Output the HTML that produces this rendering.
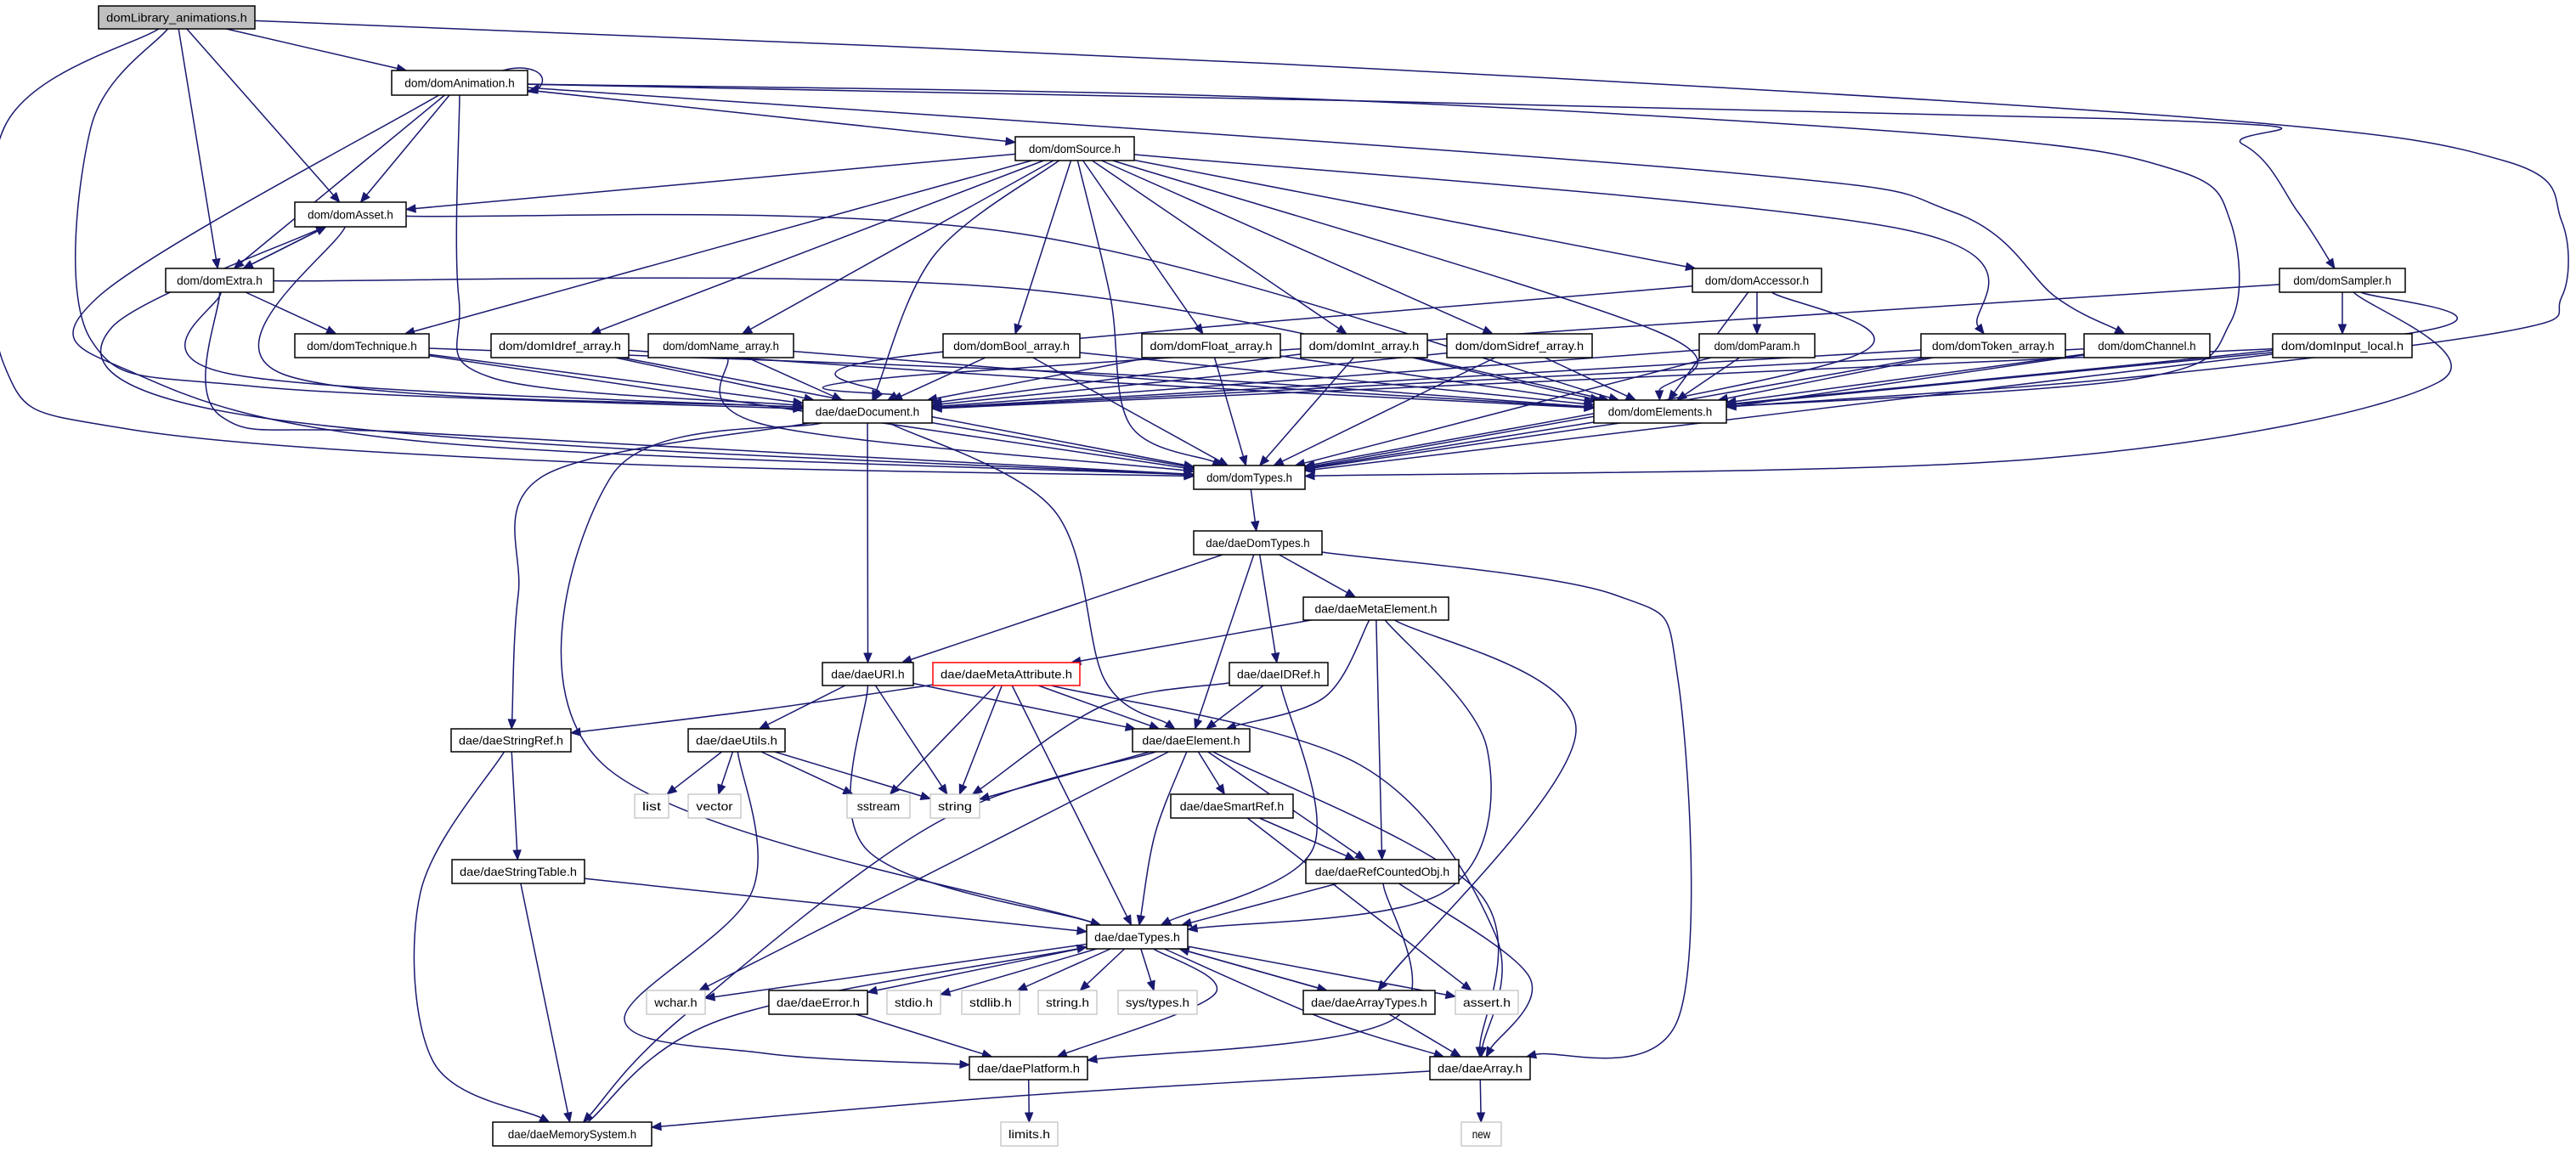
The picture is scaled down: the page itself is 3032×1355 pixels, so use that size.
<!DOCTYPE html>
<html><head><meta charset="utf-8"><style>
html,body{margin:0;padding:0;background:#fff;width:3032px;height:1355px;overflow:hidden}
svg{display:block}
</style></head><body>
<svg id="g" xmlns="http://www.w3.org/2000/svg" width="3032" height="1355" viewBox="0 0 3032 1355">
<rect width="3032" height="1355" fill="#fff"/>
<g id="edges" fill="none" stroke="#191970" stroke-width="1.5"></g>
<g id="arrows" fill="#191970" stroke="#191970" stroke-width="1"></g>
<g id="nodes" font-family="Liberation Sans, DejaVu Sans, sans-serif" font-size="14"></g>
</svg>
<script>
var N={
L:[116,7,300,34,"domLibrary_animations.h","g"],
A:[461,83,621,112,"dom/domAnimation.h"],
As:[347,238,478,267,"dom/domAsset.h"],
E:[195,316,322,344,"dom/domExtra.h"],
T:[347,393,505,421,"dom/domTechnique.h"],
Id:[578,393,740,421,"dom/domIdref_array.h"],
Nm:[763,393,934,421,"dom/domName_array.h"],
D:[945,471,1097,498,"dae/daeDocument.h"],
S:[1195,161,1335,189,"dom/domSource.h"],
B:[1110,393,1271,421,"dom/domBool_array.h"],
F:[1344,393,1507,421,"dom/domFloat_array.h"],
I:[1531,393,1680,421,"dom/domInt_array.h"],
Si:[1703,393,1874,421,"dom/domSidref_array.h"],
El:[1876,471,2032,498,"dom/domElements.h"],
Ty:[1405,548,1536,576,"dom/domTypes.h"],
Ac:[1992,316,2144,344,"dom/domAccessor.h"],
P:[2000,393,2136,421,"dom/domParam.h"],
Tk:[2261,393,2431,421,"dom/domToken_array.h"],
Ch:[2453,393,2601,421,"dom/domChannel.h"],
In:[2675,393,2839,421,"dom/domInput_local.h"],
Sa:[2683,316,2831,344,"dom/domSampler.h"],
DT:[1405,625,1556,653,"dae/daeDomTypes.h"],
ME:[1534,703,1705,730,"dae/daeMetaElement.h"],
U:[968,780,1075,807,"dae/daeURI.h"],
MA:[1098,780,1271,807,"dae/daeMetaAttribute.h","r"],
IR:[1447,780,1563,807,"dae/daeIDRef.h"],
Ee:[1333,858,1471,885,"dae/daeElement.h"],
SR:[531,858,672,885,"dae/daeStringRef.h"],
Ut:[810,858,924,885,"dae/daeUtils.h"],
li:[747,935,787,963,"list","l"],
ve:[810,935,872,963,"vector","l"],
ss:[997,935,1071,963,"sstream","l"],
st:[1095,935,1153,963,"string","l"],
Sm:[1378,935,1522,963,"dae/daeSmartRef.h"],
RC:[1537,1012,1717,1040,"dae/daeRefCountedObj.h"],
ST:[532,1012,688,1040,"dae/daeStringTable.h"],
dT:[1279,1089,1398,1117,"dae/daeTypes.h"],
wc:[761,1166,830,1194,"wchar.h","l"],
Er:[905,1166,1021,1194,"dae/daeError.h"],
sd:[1044,1166,1107,1194,"stdio.h","l"],
sl:[1132,1166,1200,1194,"stdlib.h","l"],
sh:[1222,1166,1291,1194,"string.h","l"],
sy:[1316,1166,1409,1194,"sys/types.h","l"],
AT:[1534,1166,1689,1194,"dae/daeArrayTypes.h"],
as:[1713,1166,1787,1194,"assert.h","l"],
Pl:[1141,1244,1280,1271,"dae/daePlatform.h"],
Ar:[1683,1244,1801,1271,"dae/daeArray.h"],
lm:[1178,1321,1245,1349,"limits.h","l"],
nw:[1720,1321,1767,1349,"new","l"],
MS:[580,1321,767,1349,"dae/daeMemorySystem.h"]
};
var E=[
["L","A"],["L","As"],["L","E"],["L","D",[[107,150],[107,400],[300,455]]],["L","Ty",[[5,150],[5,430],[150,505],[700,545]]],
["L","El",[[1500,75],[2600,140],[2950,190],[3015,260],[3015,350],[2950,390],[2500,445]]],
["A","As"],["A","E"],["A","D",[[540,350],[580,445]]],["A","Ty",[[115,350],[160,440],[500,520]]],["A","S"],
["A","El",[[1500,115],[2300,160],[2560,200],[2625,260],[2625,380],[2520,445]]],["A","Sa",[[2500,140],[2640,170],[2705,250]]],
["A","Ch",[[2000,200],[2300,250],[2420,350]]],
["As","E"],["E","As"],["As","D",[[332,440]]],["As","Ty",[[132,385],[200,470],[600,520]]],["As","El",[[1200,275]]],
["E","T"],["E","D",[[270,440]]],["E","Ty",[[260,490],[500,510]]],["E","El",[[1200,340]]],
["T","D"],["T","Ty"],["T","El",[[1300,440]]],
["Id","D"],["Id","Ty"],["Id","El",[[1300,450]]],
["Nm","D"],["Nm","Ty",[[900,500]]],["Nm","El",[[1400,450]]],
["S","As"],["S","T"],["S","Id"],["S","Nm"],["S","D",[[1100,300]]],["S","B"],["S","Ty",[[1307,350],[1330,500]]],["S","F"],["S","I"],["S","Si"],
["S","El",[[1950,390]]],["S","Ac"],["S","Tk",[[2240,270]]],
["B","D"],["B","Ty"],["B","El"],
["F","D"],["F","Ty"],["F","El"],
["I","D"],["I","Ty"],["I","El"],
["Si","D"],["Si","Ty"],["Si","El"],
["Ac","D",[[1060,420]]],["Ac","P"],["Ac","El"],["Ac","Ty",[[2180,420]]],
["P","D"],["P","El"],["P","Ty"],
["Tk","D"],["Tk","El"],["Tk","Ty"],
["Ch","D"],["Ch","El"],["Ch","Ty"],
["In","D"],["In","El"],["In","Ty"],
["Sa","In"],["Sa","D",[[1100,440]]],["Sa","El",[[2850,390]]],["Sa","Ty",[[2870,450],[2400,540]]],
["El","Ty"],["D","Ty"],
["D","U"],["D","SR",[[640,560],[610,700]]],["D","dT",[[720,560],[710,900]]],["D","Ee",[[1240,600],[1300,800]]],
["Ty","DT"],
["DT","U"],["DT","Ee"],["DT","IR"],["DT","ME"],["DT","Ar",[[1900,700],[1975,800],[1975,1200]]],
["ME","MA"],["ME","Ee",[[1560,820]]],["ME","RC"],["ME","dT",[[1750,880],[1700,1050]]],["ME","AT",[[1855,860]]],
["U","Ut"],["U","st"],["U","Ee"],["U","dT",[[1020,1000]]],
["MA","SR",[[900,835]]],["MA","ss"],["MA","st"],["MA","Ee"],["MA","dT"],["MA","Ar",[[1600,900],[1760,1100]]],
["IR","Ee"],["IR","st",[[1300,830]]],["IR","dT",[[1545,1000]]],
["Ee","st"],["Ee","Sm"],["Ee","RC"],["Ee","dT",[[1360,980]]],["Ee","wc",[[1150,1000]]],["Ee","MS",[[1100,970],[800,1200]]],["Ee","Ar",[[1740,1050]]],
["SR","ST"],["SR","MS",[[495,1050],[510,1250]]],
["Ut","li"],["Ut","ve"],["Ut","ss"],["Ut","st"],["Ut","Pl",[[885,1050],[735,1200],[900,1240]]],
["ST","dT"],["ST","MS"],
["Sm","RC"],["Sm","as",[[1620,1080]]],
["RC","dT"],["RC","Ar",[[1800,1150]]],["RC","Pl",[[1640,1200]]],
["dT","wc"],["dT","Er"],["dT","sd"],["dT","sl"],["dT","sh"],["dT","sy"],["dT","AT"],["AT","dT"],["dT","as"],["dT","Pl",[[1430,1170]]],["dT","Ar",[[1560,1200]]],
["MS","dT",[[850,1200]]],
["Er","Pl"],["AT","Ar"],["Pl","lm"],["Ar","nw"],["Ar","MS",[[1200,1290]]]
];
var NS="http://www.w3.org/2000/svg";
function ctr(n){return [(n[0]+n[2])/2,(n[1]+n[3])/2];}
function clip(n,p){var c=ctr(n),dx=p[0]-c[0],dy=p[1]-c[1];var hw=(n[2]-n[0])/2,hh=(n[3]-n[1])/2;
 var t=Math.min(dx?hw/Math.abs(dx):1e9,dy?hh/Math.abs(dy):1e9);return [c[0]+dx*t,c[1]+dy*t];}
var eg=document.getElementById("edges"),ag=document.getElementById("arrows"),ng=document.getElementById("nodes");
E.forEach(function(e){var s=N[e[0]],t=N[e[1]],w=e[2]||[];
 var p0=clip(s,w.length?w[0]:ctr(t)),pn=clip(t,w.length?w[w.length-1]:ctr(s));
 var pts=[p0].concat(w).concat([pn]);
 var a=pts[pts.length-2],b=pts[pts.length-1],dx=b[0]-a[0],dy=b[1]-a[1],L=Math.sqrt(dx*dx+dy*dy)||1,ux=dx/L,uy=dy/L;
 var tip=b,base=[b[0]-ux*11,b[1]-uy*11];pts[pts.length-1]=base;
 var d="M"+pts[0][0]+","+pts[0][1];
 for(var i=0;i<pts.length-1;i++){var p1=pts[i],p2=pts[i+1],q0=pts[i-1]||p1,q3=pts[i+2]||p2;
  var c1=[p1[0]+(p2[0]-q0[0])/6,p1[1]+(p2[1]-q0[1])/6],c2=[p2[0]-(q3[0]-p1[0])/6,p2[1]-(q3[1]-p1[1])/6];
  d+=" C"+c1[0].toFixed(1)+","+c1[1].toFixed(1)+" "+c2[0].toFixed(1)+","+c2[1].toFixed(1)+" "+p2[0].toFixed(1)+","+p2[1].toFixed(1);}
 var pe=document.createElementNS(NS,"path");pe.setAttribute("d",d);eg.appendChild(pe);
 var ar=document.createElementNS(NS,"polygon");
 ar.setAttribute("points",tip[0]+","+tip[1]+" "+(base[0]-uy*4.5)+","+(base[1]+ux*4.5)+" "+(base[0]+uy*4.5)+","+(base[1]-ux*4.5));ag.appendChild(ar);
});
var sl=document.createElementNS(NS,"path");sl.setAttribute("d","M592,83 C620,74 650,86 634,104");eg.appendChild(sl);
var sa=document.createElementNS(NS,"polygon");sa.setAttribute("points","621,108 634,99 633,110");ag.appendChild(sa);
for(var k in N){var n=N[k],w=n[2]-n[0],h=n[3]-n[1];
 var r=document.createElementNS(NS,"rect");r.setAttribute("x",n[0]);r.setAttribute("y",n[1]);r.setAttribute("width",w);r.setAttribute("height",h);
 r.setAttribute("fill",n[5]=="g"?"#bfbfbf":"#fff");r.setAttribute("stroke",n[5]=="r"?"#ff0000":(n[5]=="l"?"#bfbfbf":"#000"));r.setAttribute("stroke-width",n[5]=="l"?"1.2":"1.5");
 ng.appendChild(r);
 var t=document.createElementNS(NS,"text");t.setAttribute("x",(n[0]+n[2])/2);t.setAttribute("y",(n[1]+n[3])/2+5);t.setAttribute("text-anchor","middle");
 t.setAttribute("textLength",Math.min(w-18,n[4].length*7.2));t.setAttribute("lengthAdjust","spacingAndGlyphs");t.setAttribute("fill","#000");
 t.textContent=n[4];ng.appendChild(t);}
</script>
</body></html>
